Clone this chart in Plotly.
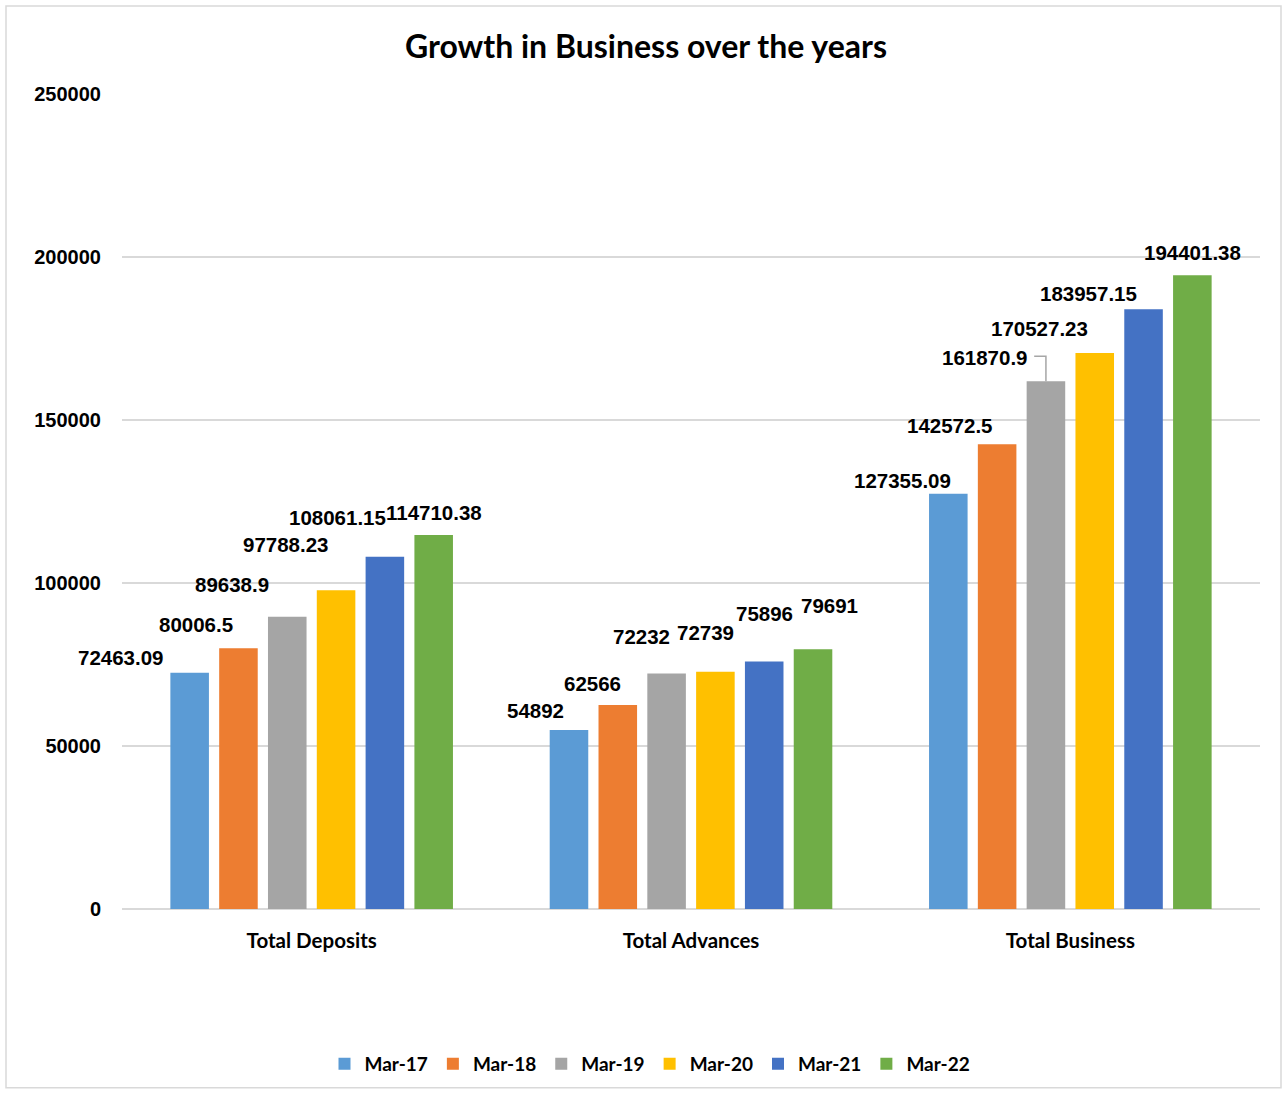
import plotly.graph_objects as go

categories = ["Total Deposits", "Total Advances", "Total Business"]
series_names = ["Mar-17", "Mar-18", "Mar-19", "Mar-20", "Mar-21", "Mar-22"]
mar17 = [72463.09, 54892, 127355.09]
mar18 = [80006.5, 62566, 142572.5]
mar19 = [89638.9, 72232, 161870.9]
mar20 = [97788.23, 72739, 170527.23]
mar21 = [108061.15, 75896, 183957.15]
mar22 = [114710.38, 79691, 194401.38]
series_values = [mar17, mar18, mar19, mar20, mar21, mar22]
y_ticks = [0, 50000, 100000, 150000, 200000, 250000]

colors = ["#5B9BD5", "#ED7D31", "#A5A5A5", "#FFC000", "#4472C4", "#70AD47"]

# label pixel displacement (style) per [series][category]: (dx, dy up)
label_dx = [[-69, -33, -46], [-42, -25, -47], [-55, -25, -61],
            [-50, -10, -55], [-47, 0, -55], [0, 16, 0]]
label_dy = [[15, 20, 13], [24, 22, 19], [32, 37, 24],
            [46, 39, 25], [39, 48, 16], [23, 44, 23]]

BARGAP = 0.228
NUM = len(series_names)
slot = (1 - BARGAP) / NUM

fig = go.Figure()
for i, (name, vals) in enumerate(zip(series_names, series_values)):
    fig.add_trace(go.Bar(name=f"<b>{name}</b>", x=categories, y=vals, marker_color=colors[i],
                         marker_line_width=0))

label_font = dict(family="Liberation Sans, Arial, sans-serif", size=20.5, color="#000000")
annotations = []
for i, vals in enumerate(series_values):
    for c, v in enumerate(vals):
        xpos = c + (i - (NUM - 1) / 2) * slot
        annotations.append(dict(x=xpos, y=v, xref="x", yref="y", text=f"<b>{str(v)}</b>",
                                showarrow=False, font=label_font,
                                xshift=label_dx[i][c], yshift=label_dy[i][c],
                                xanchor="center", yanchor="middle"))

# leader line for the Mar-19 Total Business label
lx = 2 + (2 - (NUM - 1) / 2) * slot
fig.add_shape(type="path", xref="x", yref="y",
              path=f"M {lx - 0.031},{mar19[2] + 7700} L {lx},{mar19[2] + 7700} L {lx},{mar19[2]}",
              line=dict(color="#A6A6A6", width=1.5))

fig.update_layout(
    width=1288, height=1094,
    paper_bgcolor="white", plot_bgcolor="white",
    margin=dict(l=122, r=28, t=94, b=184),
    barmode="group", bargap=BARGAP, bargroupgap=0.21,
    title=dict(text="<b>Growth in Business over the years</b>", x=646 / 1288, xref="container", xanchor="center",
               y=1 - 47 / 1094, yanchor="middle",
               font=dict(family="Lato, Calibri, sans-serif", size=32, color="#000000")),
    font=dict(family="Lato, Calibri, sans-serif", color="#000000"),
    annotations=annotations,
    showlegend=True,
    legend=dict(orientation="h", x=(650 - 122) / 1138, xanchor="center", y=(910 - 1064) / 816, yanchor="middle",
                font=dict(family="Lato, Calibri, sans-serif", size=19, color="#000000"),
                itemsizing="constant"),
)
fig.update_xaxes(range=[-0.5, 2.5], showgrid=False, showline=False, ticks="", ticklabelstandoff=17,
                 tickfont=dict(family="Lato, Calibri, sans-serif", size=20.5, color="#000000"),
                 tickprefix="<b>", ticksuffix="</b>")
fig.update_yaxes(range=[0, 250000], tickvals=y_ticks, ticktext=[f"<b>{t}</b>" for t in y_ticks],
                 showgrid=True, gridcolor="#D9D9D9", gridwidth=1.5,
                 zeroline=True, zerolinecolor="#D9D9D9", zerolinewidth=1.5,
                 showline=False, ticks="", ticklabelstandoff=20,
                 tickfont=dict(family="Liberation Sans, Arial, sans-serif", size=20, color="#000000"))

# outer chart border
fig.add_shape(type="rect", xref="paper", yref="paper",
              x0=(6 - 122) / 1138, x1=(1281 - 122) / 1138,
              y0=(910 - 1089) / 816, y1=(910 - 6) / 816,
              line=dict(color="#D9D9D9", width=1.5), fillcolor="rgba(0,0,0,0)", layer="below")

fig.write_html("out.html")
